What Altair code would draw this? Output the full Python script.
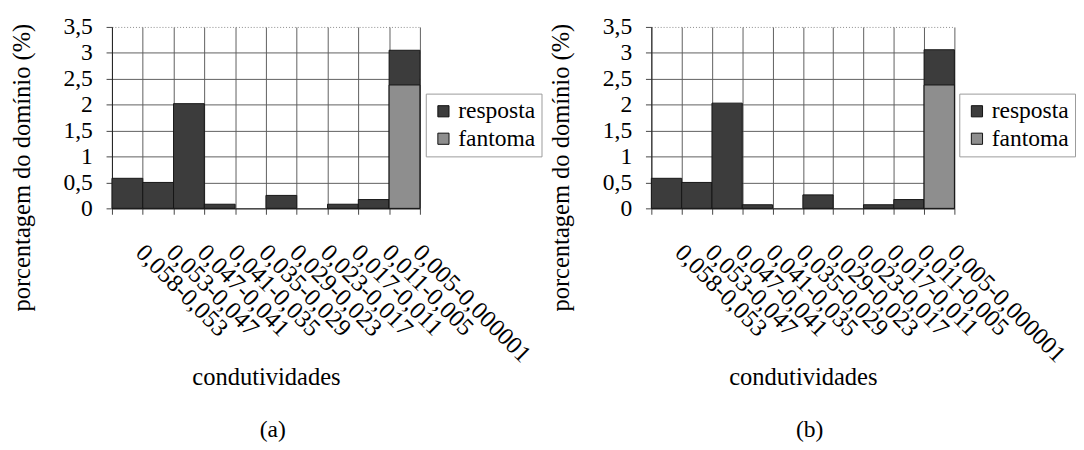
import altair as alt
import pandas as pd

categorias = [
    "0,058-0,053", "0,053-0,047", "0,047-0,041", "0,041-0,035", "0,035-0,029",
    "0,029-0,023", "0,023-0,017", "0,017-0,011", "0,011-0,005", "0,005-0,000001",
]
series = ["resposta", "fantoma"]

resposta_a = [0.58, 0.50, 2.02, 0.08, 0.0, 0.25, 0.0, 0.08, 0.17, 3.05]
fantoma_a = [0.0, 0.0, 0.0, 0.0, 0.0, 0.0, 0.0, 0.0, 0.0, 2.38]
resposta_b = [0.58, 0.50, 2.03, 0.07, 0.0, 0.26, 0.0, 0.07, 0.17, 3.06]
fantoma_b = [0.0, 0.0, 0.0, 0.0, 0.0, 0.0, 0.0, 0.0, 0.0, 2.38]

y_ticks = [0, 0.5, 1, 1.5, 2, 2.5, 3, 3.5]

FONT = "Liberation Serif, Times New Roman, Times, serif"
DARK = "#3c3c3c"
LIGHT = "#8e8e8e"
H = 185


def panel(resp, fant, caption, width, legend_x):
    rows = []
    for c, v in zip(categorias, resp):
        if v > 0:
            rows.append({"cat": c, "serie": "resposta", "valor": v})
    for c, v in zip(categorias, fant):
        if v > 0:
            rows.append({"cat": c, "serie": "fantoma", "valor": v})
    df = pd.DataFrame(rows)

    x = alt.X(
        "cat:N",
        sort=categorias,
        scale=alt.Scale(domain=categorias, paddingInner=0, paddingOuter=0),
        axis=alt.Axis(
            title="condutividades",
            labelAngle=45,
            labelAlign="left",
            labelBaseline="top",
            labelFontSize=25,
            labelOffset=21,
            labelPadding=26,
            tickBand="extent",
            grid=True,
            titleX=width / 2,
            titleY=172,
            titleBaseline="middle",
            titleAlign="center",
            labelOverlap=False,
            labelBound=False,
        ),
    )
    y = alt.Y(
        "valor:Q",
        stack=None,
        scale=alt.Scale(domain=[0, 3.5], nice=False),
        axis=alt.Axis(
            values=y_ticks,
            labelExpr="replace(toString(datum.value), '.', ',')",
            title="porcentagem do domínio (%)",
            titleX=-104,
            titleY=143,
            titleAngle=270,
            titleBaseline="top",
            titleAlign="center",
            labelPadding=14,
            gridDash={"condition": {"test": "datum.value === 3.5", "value": [1, 2]}, "value": []},
            gridColor={"condition": {"test": "datum.value === 3.5", "value": "#8a8a8a"}, "value": "#5e5e5e"},
        ),
    )
    color = alt.Color(
        "serie:N",
        scale=alt.Scale(domain=series, range=[DARK, LIGHT]),
        legend=alt.Legend(
            title=None,
            orient="none",
            legendX=legend_x,
            legendY=68,
            symbolType="square",
            symbolSize=130,
            symbolStrokeColor="#111111",
            symbolStrokeWidth=1,
            labelFont=FONT,
            labelFontSize=24,
            labelColor="black",
            labelOffset=3,
            rowPadding=4,
            padding=6,
            strokeColor="#9a9a9a",
            fillColor="white",
        ),
    )
    bars_r = (
        alt.Chart(df)
        .transform_filter(alt.datum.serie == "resposta")
        .mark_bar(stroke="#151515", strokeWidth=1)
        .encode(x=x, y=y, color=color)
    )
    bars_f = (
        alt.Chart(df)
        .transform_filter(alt.datum.serie == "fantoma")
        .mark_bar(stroke="#151515", strokeWidth=1)
        .encode(x=x, y=y, color=color)
    )
    cap = (
        alt.Chart(pd.DataFrame({"t": [caption]}))
        .mark_text(font=FONT, fontSize=24, color="black", baseline="middle", align="center")
        .encode(text="t:N", x=alt.value(width / 2 + 7), y=alt.value(411))
    )
    return alt.layer(bars_r, bars_f, cap).properties(width=width, height=H)


a = panel(resposta_a, fantoma_a, "(a)", 314, 320)
b = panel(resposta_b, fantoma_b, "(b)", 309, 314)

chart = (
    alt.hconcat(a, b, spacing=236, bounds="flush")
    .resolve_scale(color="independent")
    .resolve_legend(color="independent")
    .properties(padding={"left": 2, "top": 3, "right": 0, "bottom": 0}, background="white")
    .configure_view(stroke=None)
    .configure_axis(
        labelFont=FONT,
        titleFont=FONT,
        labelFontSize=24,
        titleFontSize=25,
        titleFontWeight="normal",
        labelColor="black",
        titleColor="black",
        gridColor="#5e5e5e",
        gridWidth=1,
        gridOpacity=1,
        domainColor="#222222",
        tickColor="#444444",
        tickSize=6,
    )
)

chart.save("out.html", embed_options={"renderer": "svg", "actions": False})
